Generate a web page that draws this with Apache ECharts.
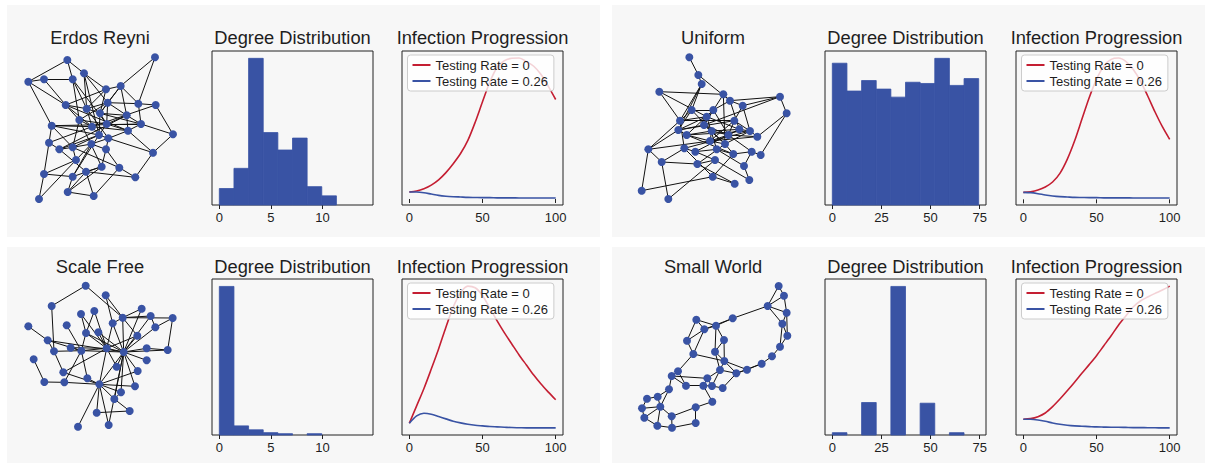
<!DOCTYPE html>
<html><head><meta charset="utf-8">
<script src="https://cdn.jsdelivr.net/npm/echarts@6/dist/echarts.min.js"></script>
<style>html,body{margin:0;padding:0;background:#fff}#c{width:1207px;height:463px}</style>
</head><body><div id="c"></div>
<script>
// ---------- data ----------
const panelTitles = ['Erdos Reyni', 'Uniform', 'Scale Free', 'Small World'];
const histTitle = 'Degree Distribution';
const infTitle = 'Infection Progression';
const seriesNames = ['Testing Rate = 0', 'Testing Rate = 0.26'];

const timeSteps = [0,5,10,15,20,25,30,35,40,45,50,55,60,65,70,75,80,85,90,95,100];
const erInfNoTest  = [4.2,4.8,6.2,8.4,11.6,16,21.4,27.6,35.6,46.6,59,71,80,84,85.4,85.6,83.4,80.6,75.6,68.4,60.4];
const erInfTest    = [4.2,4.2,3.8,3.0,2.2,1.7,1.4,1.2,1.0,0.9,0.8,0.8,0.7,0.7,0.7,0.6,0.6,0.6,0.6,0.6,0.6];
const uniInfNoTest = [4.2,4.6,5.6,7.4,10.4,15.6,24,35,48,61,72,80,84,84.8,82.8,78,71,62,52.4,43.6,36];
const uniInfTest   = [4.2,4.0,3.4,2.6,2.0,1.6,1.4,1.2,1.1,1.0,1.0,0.9,0.9,0.9,0.9,0.8,0.8,0.8,0.8,0.8,0.8];
const sfInfNoTest  = [7.6,18,28.4,40,52,65,77,85.6,89.6,88.6,84,76.4,68.8,61.6,55,48.4,42.4,36.4,31,26.2,21.6];
const sfInfTest    = [7.6,12,13.6,13,11.6,10.2,8.8,7.8,7.0,6.4,6.0,5.6,5.4,5.2,5.0,4.9,4.8,4.8,4.8,4.8,4.8];
const swInfNoTest  = [9.6,10.0,11.2,13.4,17.2,21.8,26.8,32,37.4,42.6,48,54,60,66.4,72,77.4,81,83.4,85.6,87.6,90];
const swInfTest    = [9.6,9.6,9.2,8.4,7.4,6.6,6.0,5.6,5.4,5.2,5.0,4.9,4.8,4.8,4.7,4.6,4.6,4.5,4.5,4.4,4.4];

const degEdgesSmall = [0,1.42,2.84,4.26,5.68,7.1,8.52,9.94,11.36,12.78,14.2];
const degEdgesLarge = [0,7.45,14.9,22.35,29.8,37.25,44.7,52.15,59.6,67.05,74.5];
const erDegCounts  = [1.8,4,16,7.9,6,7.3,2,1,0,0];
const sfDegCounts  = [114,7,4,1.8,1,0,1,0,0,0];
const uniDegCounts = [5.81,4.67,5.10,4.75,4.42,5.03,4.98,6.01,4.90,5.18];
const swDegCounts  = [1,0,14,0,64,0,13.7,0,1,0];
const smallDegTicks = [0,5,10];
const largeDegTicks = [0,25,50,75];
const infTicks = [0,50,100];

const erNodes = [[202,180],[465,172],[85,245],[132,238],[218,238],[252,220],[318,268],[362,258],[197,315],[260,326],[300,340],[323,308],[415,311],[467,315],[380,346],[238,360],[276,380],[320,372],[423,372],[384,392],[155,377],[297,405],[325,415],[519,403],[147,428],[178,448],[218,442],[274,432],[318,448],[459,458],[228,480],[258,515],[305,500],[358,503],[406,532],[132,522],[218,530],[203,576],[281,588],[117,597]];
const erLinks = [[1,3],[1,5],[1,6],[3,4],[3,9],[3,21],[4,5],[4,9],[5,16],[5,18],[6,7],[6,12],[6,22],[2,8],[2,13],[7,8],[7,10],[7,9],[8,13],[8,15],[8,11],[9,10],[9,16],[9,20],[10,11],[10,17],[10,23],[11,12],[11,15],[11,19],[12,13],[12,16],[12,18],[13,14],[13,19],[14,24],[14,17],[15,19],[15,18],[15,26],[16,17],[16,27],[16,33],[17,20],[17,21],[17,25],[18,20],[18,22],[19,24],[19,20],[20,30],[21,25],[21,22],[21,19],[22,23],[22,26],[23,28],[23,30],[23,29],[24,30],[25,36],[25,26],[26,27],[27,28],[27,31],[27,34],[28,29],[28,31],[28,37],[29,33],[29,34],[30,35],[31,36],[31,40],[32,33],[32,35],[32,38],[33,37],[33,38],[34,35],[34,39],[36,37],[36,40],[37,38],[37,22],[38,39],[39,32],[26,32],[11,22],[7,11],[8,12],[10,12],[16,18],[17,22],[11,18],[12,15],[9,17],[21,27],[20,23],[15,20],[6,10],[5,10],[18,19],[27,22]];

const uniNodes = [[268,172],[295,225],[305,252],[178,275],[370,283],[390,302],[428,317],[540,290],[560,340],[275,330],[340,330],[320,350],[240,362],[312,375],[403,362],[235,390],[260,405],[335,393],[418,388],[450,393],[472,410],[385,405],[330,423],[375,432],[145,448],[253,445],[286,455],[350,448],[400,462],[455,455],[482,465],[185,486],[292,492],[345,480],[432,498],[338,530],[404,551],[448,540],[125,572],[205,597]];
const uniLinks = [[1,2],[2,3],[2,6],[3,10],[3,13],[3,16],[4,13],[4,5],[4,12],[5,6],[5,14],[5,24],[6,7],[6,8],[6,11],[6,19],[7,8],[7,15],[8,9],[8,14],[9,21],[10,11],[10,16],[10,18],[11,12],[11,17],[11,22],[12,13],[12,19],[12,28],[13,15],[13,26],[13,25],[14,16],[14,18],[14,24],[15,16],[15,20],[15,23],[16,25],[16,17],[17,18],[17,20],[17,29],[18,19],[18,22],[19,20],[19,27],[20,21],[20,26],[21,22],[21,23],[22,23],[22,30],[23,24],[23,25],[24,29],[24,33],[25,32],[25,39],[26,27],[26,32],[26,36],[27,28],[27,34],[28,29],[28,35],[29,30],[29,36],[30,31],[30,35],[32,33],[32,40],[33,34],[33,37],[34,38],[35,38],[36,37],[36,39],[40,34],[9,31],[7,20],[11,14],[12,14],[14,22],[18,24],[18,23],[19,22],[15,22],[10,13],[12,16],[17,23],[20,24]];

const sfNodes = [[257,152],[317,181],[155,213],[425,221],[243,237],[283,228],[368,248],[452,243],[518,249],[85,274],[200,271],[338,265],[466,277],[258,294],[295,292],[412,302],[143,316],[212,338],[162,349],[244,347],[320,340],[371,351],[440,340],[503,345],[101,373],[440,376],[350,395],[190,412],[413,408],[133,441],[193,442],[262,430],[298,448],[405,454],[363,472],[343,492],[290,533],[389,528],[234,575],[326,570]];
const sfLinks = [[1,3],[1,7],[2,7],[2,12],[3,19],[4,22],[4,7],[5,14],[5,21],[6,21],[6,14],[7,8],[7,9],[7,22],[7,16],[7,12],[8,22],[8,13],[9,24],[24,22],[10,17],[11,20],[12,22],[12,21],[13,22],[14,20],[14,21],[14,22],[15,21],[15,22],[16,22],[16,21],[17,22],[17,20],[17,19],[18,20],[18,21],[19,20],[19,28],[20,21],[20,22],[20,31],[20,32],[21,22],[21,33],[21,28],[21,27],[22,23],[22,26],[22,27],[22,29],[22,33],[22,34],[22,35],[22,36],[22,40],[25,30],[28,33],[29,33],[30,31],[31,33],[32,33],[33,34],[33,35],[33,36],[33,37],[33,39],[33,40],[35,36],[36,38],[37,38],[23,24],[13,9]];

const swNodes = [[536,153],[552,182],[503,213],[560,233],[547,266],[562,302],[540,335],[516,364],[485,386],[441,404],[409,415],[398,250],[348,272],[289,254],[313,283],[372,315],[261,317],[345,350],[280,357],[373,378],[360,405],[234,409],[215,423],[322,430],[258,452],[310,452],[336,453],[368,459],[207,463],[141,491],[173,485],[126,520],[181,515],[133,548],[215,544],[172,572],[216,578],[287,517],[337,500],[287,564]];
const swLinks = [[1,2],[1,3],[2,3],[2,4],[3,4],[3,5],[4,5],[4,6],[5,6],[5,7],[6,7],[7,8],[8,9],[9,10],[9,11],[10,11],[10,20],[11,20],[11,21],[3,12],[12,13],[12,15],[13,14],[13,15],[13,16],[13,18],[14,15],[14,17],[15,17],[16,18],[17,19],[15,19],[19,22],[18,20],[18,21],[20,21],[16,20],[22,23],[21,24],[24,27],[21,27],[24,26],[26,27],[27,28],[28,11],[23,25],[23,29],[25,26],[22,25],[29,31],[29,33],[30,31],[30,32],[31,33],[32,33],[32,34],[33,34],[33,36],[33,35],[34,36],[36,37],[35,37],[35,38],[37,40],[38,40],[38,39],[39,26],[23,24],[19,20]];

// ---------- layout / style ----------
const FONT = '"Liberation Sans", Arial, Helvetica, sans-serif';
const TXT = '#1e1e1e';
const BLUE = '#3953a4';
const RED = '#c41e32';
const PANEL = '#f7f7f7';

const panels = [
  {x0:0,   y0:0,   netW:600, netH:705, cropW:200, cropH:235, boxTop:51,  boxH:154, titleY:38,
   nodes:erNodes, links:erLinks, edges:degEdgesSmall, counts:erDegCounts, ticks:smallDegTicks,
   red:erInfNoTest, blue:erInfTest, degL:212, infL:402, netCx:100},
  {x0:600, y0:0,   netW:630, netH:705, cropW:210, cropH:235, boxTop:51,  boxH:154, titleY:38,
   nodes:uniNodes, links:uniLinks, edges:degEdgesLarge, counts:uniDegCounts, ticks:largeDegTicks,
   red:uniInfNoTest, blue:uniInfTest, degL:825, infL:1016, netCx:713},
  {x0:0,   y0:235, netW:600, netH:684, cropW:200, cropH:228, boxTop:279, boxH:156, titleY:267,
   nodes:sfNodes, links:sfLinks, edges:degEdgesSmall, counts:sfDegCounts, ticks:smallDegTicks,
   red:sfInfNoTest, blue:sfInfTest, degL:212, infL:402, netCx:100},
  {x0:600, y0:235, netW:630, netH:684, cropW:210, cropH:228, boxTop:279, boxH:156, titleY:267,
   nodes:swNodes, links:swLinks, edges:degEdgesLarge, counts:swDegCounts, ticks:largeDegTicks,
   red:swInfNoTest, blue:swInfTest, degL:825, infL:1016, netCx:713}
];

const grid = [], xAxis = [], yAxis = [], series = [], title = [], legend = [];

function tickAxis(min, max, ticks, gi) {
  return {type:'value', gridIndex:gi, min:min, max:max,
    axisLine:{show:false}, splitLine:{show:false},
    axisTick:{show:true, length:4, customValues:ticks, lineStyle:{color:'#222', width:1}},
    axisLabel:{show:true, customValues:ticks, margin:6, fontSize:13, color:TXT, fontFamily:FONT}};
}
function titleAt(text, cx, cy) {
  title.push({text:text, left:cx, top:cy - 10, textAlign:'center', padding:0,
    textStyle:{fontSize:18.3, fontWeight:'normal', color:TXT, fontFamily:FONT}});
}

panels.forEach((p, k) => {
  // network
  let gi = grid.length;
  grid.push({left:p.x0, top:p.y0, width:p.cropW, height:p.cropH, show:false});
  xAxis.push({type:'value', gridIndex:gi, min:0, max:p.netW, show:false});
  yAxis.push({type:'value', gridIndex:gi, min:0, max:p.netH, inverse:true, show:false});
  series.push({type:'graph', coordinateSystem:'cartesian2d', xAxisIndex:gi, yAxisIndex:gi,
    layout:'none', symbolSize:8, silent:true, z:3,
    data:p.nodes.map(v => ({value:v})),
    links:p.links.map(l => ({source:l[0]-1, target:l[1]-1})),
    itemStyle:{color:BLUE},
    lineStyle:{color:'#111', width:1, opacity:1, curveness:0}});
  titleAt(panelTitles[k], p.netCx, p.titleY);

  // degree histogram
  gi = grid.length;
  const w = 161;
  grid.push({left:p.degL, top:p.boxTop, width:w, height:p.boxH, show:true,
    borderColor:'#222', borderWidth:1, backgroundColor:'transparent'});
  const eLast = p.edges[p.edges.length-1];
  const pad = eLast * 0.05;
  xAxis.push(tickAxis(-pad, eLast + pad, p.ticks, gi));
  const cmax = Math.max(...p.counts);
  yAxis.push({type:'value', gridIndex:gi, min:0, max:cmax*1.05, show:false});
  series.push({type:'custom', xAxisIndex:gi, yAxisIndex:gi, silent:true,
    data:p.counts.map((c,i) => [p.edges[i], p.edges[i+1], c]),
    encode:{x:[0,1], y:2},
    renderItem:(params, api) => {
      const a = api.coord([api.value(0), api.value(2)]);
      const b = api.coord([api.value(1), 0]);
      return {type:'rect', shape:{x:a[0], y:a[1], width:b[0]-a[0], height:b[1]-a[1]},
        style:{fill:BLUE, stroke:api.value(2) > 0 ? BLUE : null, lineWidth:0.8}};
    }});
  titleAt(histTitle, p.degL + w/2, p.titleY);

  // infection progression
  gi = grid.length;
  grid.push({left:p.infL, top:p.boxTop, width:w, height:p.boxH, show:true,
    borderColor:'#222', borderWidth:1, backgroundColor:'transparent'});
  xAxis.push(tickAxis(-5, 105, infTicks, gi));
  const all = p.red.concat(p.blue);
  const lo = Math.min(...all), hi = Math.max(...all), r = hi - lo;
  yAxis.push({type:'value', gridIndex:gi, min:lo - 0.05*r, max:hi + 0.05*r, show:false});
  [[seriesNames[0], p.red, RED], [seriesNames[1], p.blue, BLUE]].forEach(s => {
    series.push({type:'line', name:s[0], xAxisIndex:gi, yAxisIndex:gi, silent:true,
      data:timeSteps.map((t,i) => [t, s[1][i]]), showSymbol:false, smooth:0.3,
      color:s[2], lineStyle:{color:s[2], width:1.6}});
  });
  legend.push({data:seriesNames, left:p.infL + 5.5, top:p.boxTop + 4, orient:'vertical',
    selectedMode:false, backgroundColor:'rgba(255,255,255,0.8)', borderColor:'#cccccc',
    borderWidth:1, borderRadius:3, padding:[3,6,3,5], itemGap:2, itemWidth:18, itemHeight:2,
    icon:'rect', textStyle:{fontSize:13, color:TXT, fontFamily:FONT, lineHeight:14}});
  titleAt(infTitle, p.infL + w/2, p.titleY);
});

const chart = echarts.init(document.getElementById('c'), null, {renderer:'svg'});
chart.setOption({
  animation:false,
  backgroundColor:'#ffffff',
  textStyle:{fontFamily:FONT},
  graphic:[
    {type:'rect', z:-10, shape:{x:7, y:5, width:593, height:232}, style:{fill:PANEL}},
    {type:'rect', z:-10, shape:{x:612, y:5, width:593, height:232}, style:{fill:PANEL}},
    {type:'rect', z:-10, shape:{x:7, y:247, width:593, height:216}, style:{fill:PANEL}},
    {type:'rect', z:-10, shape:{x:612, y:247, width:593, height:216}, style:{fill:PANEL}}
  ],
  title:title, legend:legend, grid:grid, xAxis:xAxis, yAxis:yAxis, series:series
});
</script>
</body></html>
